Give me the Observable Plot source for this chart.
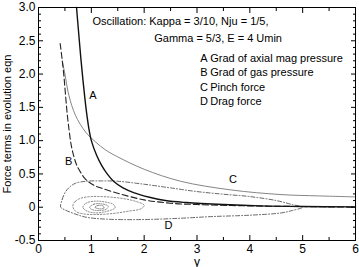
<!DOCTYPE html>
<html>
<head>
<meta charset="utf-8">
<script src="https://cdn.jsdelivr.net/npm/d3@7"></script>
<script src="https://cdn.jsdelivr.net/npm/@observablehq/plot@0.6"></script>
<style>
  html, body { margin: 0; padding: 0; background: #fff; }
  #chart svg { display: block; }
</style>
</head>
<body>
<div id="chart"></div>
<script>
// ---- data ----
const aX = [0.72, 0.76, 0.80, 0.84, 0.88, 0.92, 0.96, 1.00, 1.10, 1.20, 1.30, 1.42, 1.60, 1.80, 2.10, 2.40, 2.80, 3.50, 4.20, 5.00, 6.00];
const aY = [3.00, 2.62, 2.25, 1.92, 1.62, 1.36, 1.15, 1.00, 0.78, 0.62, 0.50, 0.39, 0.29, 0.22, 0.15, 0.10, 0.07, 0.04, 0.02, 0.01, 0.005];

const bX = [0.41, 0.45, 0.48, 0.51, 0.54, 0.58, 0.62, 0.67, 0.73, 0.80, 0.88, 0.95, 1.05, 1.18, 1.50, 2.00, 2.50, 3.00, 4.00, 5.00, 6.00];
const bY = [2.46, 2.20, 1.98, 1.70, 1.43, 1.15, 0.93, 0.76, 0.62, 0.52, 0.43, 0.38, 0.33, 0.29, 0.21, 0.11, 0.06, 0.04, 0.02, 0.01, 0.0];

const cX = [0.45, 0.50, 0.575, 0.70, 0.89, 1.08, 1.27, 1.49, 2.00, 2.69, 3.64, 4.59, 5.30, 6.00];
const cY = [2.20, 2.00, 1.68, 1.38, 1.13, 0.98, 0.86, 0.76, 0.57, 0.39, 0.26, 0.19, 0.17, 0.155];

// drag force: decaying oscillation loops
const dOuterX = [0.42, 0.45, 0.51, 0.60, 0.70, 0.90, 1.20, 1.50, 2.00, 2.50, 3.00, 3.50, 4.00, 4.50, 4.80, 5.00, 4.80, 4.60, 4.00, 3.30, 2.70, 2.00, 1.30, 0.90, 0.67, 0.50];
const dOuterY = [0.00, 0.12, 0.23, 0.31, 0.36, 0.39, 0.395, 0.39, 0.345, 0.29, 0.235, 0.195, 0.16, 0.10, 0.04, 0.00, -0.05, -0.085, -0.12, -0.14, -0.165, -0.185, -0.18, -0.15, -0.095, -0.04];
const dLoop2X = [0.65, 0.70, 0.80, 1.00, 1.30, 1.60, 1.85, 2.00, 1.95, 1.70, 1.40, 1.10, 0.85, 0.70];
const dLoop2Y = [0.02, 0.09, 0.135, 0.16, 0.155, 0.13, 0.085, 0.03, -0.02, -0.06, -0.095, -0.11, -0.10, -0.06];
const dLoop3X = [0.84, 0.90, 1.05, 1.25, 1.42, 1.45, 1.30, 1.10, 0.92];
const dLoop3Y = [0.00, 0.06, 0.09, 0.08, 0.04, -0.01, -0.06, -0.085, -0.06];
const dLoop4X = [0.97, 1.05, 1.20, 1.32, 1.28, 1.12, 1.00];
const dLoop4Y = [0.00, 0.045, 0.05, 0.015, -0.03, -0.05, -0.03];
const dLoop5X = [1.07, 1.12, 1.22, 1.24, 1.15];
const dLoop5Y = [0.00, 0.025, 0.02, -0.01, -0.025];

// ticks
const xMajor = [0, 1, 2, 3, 4, 5, 6];
const xMinor = [0.5, 1.5, 2.5, 3.5, 4.5, 5.5];
const yMajor = [-0.5, 0, 0.5, 1.0, 1.5, 2.0, 2.5, 3.0];
const yMajorLabels = ["-0.5", "0", "0.5", "1.0", "1.5", "2.0", "2.5", "3.0"];
const yMinor = d3.range(-4, 30).map(i => +(i / 10).toFixed(1)).filter(v => Math.abs(v * 2 - Math.round(v * 2)) > 1e-6);

// texts
const titleLines = ["Oscillation: Kappa = 3/10, Nju = 1/5,", "Gamma = 5/3, E = 4 Umin"];
const legendKeys = ["A", "B", "C", "D"];
const legendNames = ["Grad of axial mag pressure", "Grad of gas pressure", "Pinch force", "Drag force"];
const xTitle = "y";
const yTitle = "Force terms in evolution eqn";

// ---- build ----
const pts = (xs, ys) => xs.map((x, i) => ({x, y: ys[i]}));
const A = pts(aX, aY), B = pts(bX, bY), C = pts(cX, cY);
const D1 = pts(dOuterX, dOuterY), D2 = pts(dLoop2X, dLoop2Y), D3 = pts(dLoop3X, dLoop3Y), D4 = pts(dLoop4X, dLoop4Y), D5 = pts(dLoop5X, dLoop5Y);

const font = "Liberation Sans, Arial, Helvetica, sans-serif";
const titleRows = titleLines.map((t, i) => ({t, x: i === 0 ? 1.02 : 2.19, y: i === 0 ? 2.79 : 2.535}));
const legendRows = legendKeys.map((k, i) => ({k, name: legendNames[i], y: [2.237, 2.027, 1.805, 1.595][i]}));
const curveLabels = [
  {t: "A", x: 1.03, y: 1.68},
  {t: "B", x: 0.57, y: 0.68},
  {t: "C", x: 3.68, y: 0.42},
  {t: "D", x: 2.46, y: -0.27}
];

const chart = Plot.plot({
  width: 359,
  height: 267,
  marginLeft: 38,
  marginRight: 4,
  marginTop: 7,
  marginBottom: 27,
  style: {fontFamily: font, fontSize: "12px", background: "#fff", color: "#000"},
  x: {domain: [0, 6], label: null},
  y: {domain: [-0.5, 3], label: null},
  marks: [
    // curves
    Plot.line(D1, {x: "x", y: "y", curve: "catmull-rom-closed", stroke: "#555", strokeWidth: 0.9, strokeDasharray: "4,2,1,2"}),
    Plot.line(D2, {x: "x", y: "y", curve: "catmull-rom-closed", stroke: "#666", strokeWidth: 0.8, strokeDasharray: "1.5,1.8"}),
    Plot.line(D3, {x: "x", y: "y", curve: "catmull-rom-closed", stroke: "#666", strokeWidth: 0.8, strokeDasharray: "1.2,1.6"}),
    Plot.line(D4, {x: "x", y: "y", curve: "catmull-rom-closed", stroke: "#666", strokeWidth: 0.8, strokeDasharray: "1,1.4"}),
    Plot.line(D5, {x: "x", y: "y", curve: "catmull-rom-closed", stroke: "#666", strokeWidth: 0.8, strokeDasharray: "1,1.2"}),
    Plot.line(C, {x: "x", y: "y", curve: "catmull-rom", stroke: "#777", strokeWidth: 0.9}),
    Plot.line(B, {x: "x", y: "y", curve: "catmull-rom", stroke: "#222", strokeWidth: 1.1, strokeDasharray: "6,3"}),
    Plot.line(A, {x: "x", y: "y", curve: "catmull-rom", stroke: "#111", strokeWidth: 1.4}),
    // frame & axes
    Plot.frame({stroke: "#000", strokeWidth: 1}),
    Plot.axisX(xMajor, {anchor: "bottom", label: null, tickSize: 0, tickPadding: 4, fontSize: 12, tickFormat: d => String(d)}),
    Plot.axisX(xMajor, {anchor: "bottom", label: null, tickSize: -5, text: null}),
    Plot.axisX(xMinor, {anchor: "bottom", label: null, tickSize: -3, text: null}),
    Plot.axisX(xMajor, {anchor: "top", label: null, tickSize: -5, text: null}),
    Plot.axisX(xMinor, {anchor: "top", label: null, tickSize: -3, text: null}),
    Plot.axisY(yMajor, {anchor: "left", label: null, tickSize: 0, tickPadding: 3, fontSize: 12, tickFormat: d => yMajorLabels[yMajor.indexOf(d)]}),
    Plot.axisY(yMajor, {anchor: "left", label: null, tickSize: -5, text: null}),
    Plot.axisY(yMinor, {anchor: "left", label: null, tickSize: -3, text: null}),
    Plot.axisY(yMajor, {anchor: "right", label: null, tickSize: -5, text: null}),
    Plot.axisY(yMinor, {anchor: "right", label: null, tickSize: -3, text: null}),
    // title & legend
    Plot.text(titleRows, {x: "x", y: "y", text: "t", textAnchor: "start", fontSize: 11, fill: "#000"}),
    Plot.text(legendRows, {x: () => 3.13, y: "y", text: "k", textAnchor: "middle", fontSize: 11, fill: "#000"}),
    Plot.text(legendRows, {x: () => 3.25, y: "y", text: "name", textAnchor: "start", fontSize: 11, fill: "#000"}),
    Plot.text(curveLabels, {x: "x", y: "y", text: "t", fontSize: 11, fill: "#000"}),
    // axis titles
    Plot.text([xTitle], {frameAnchor: "bottom", dy: 25, text: d => d, fontSize: 12, fill: "#000"}),
    Plot.text([yTitle], {frameAnchor: "left", textAnchor: "middle", dx: -31, rotate: -90, text: d => d, fontSize: 11, fill: "#000"})
  ]
});
document.getElementById("chart").appendChild(chart);
</script>
</body>
</html>
